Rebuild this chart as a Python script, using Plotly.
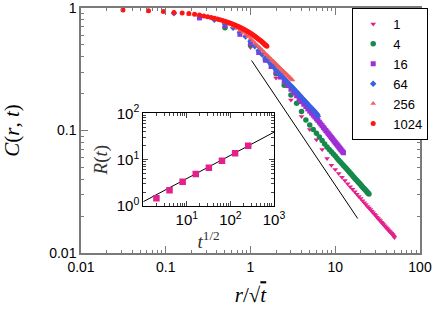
import numpy as np
import plotly.graph_objects as go

# ---------------- data ----------------
T_VALUES = [1, 4, 16, 64, 256, 1024]
LEGEND_LABELS = ["1", "4", "16", "64", "256", "1024"]
R_DIST = list(range(1, 51))

C_T1 = [0.477, 0.268, 0.177, 0.130, 0.102, 0.084, 0.070, 0.059, 0.052, 0.048,
        0.0445, 0.0416, 0.0390, 0.0368, 0.0348, 0.0331, 0.0316, 0.0302, 0.0289, 0.0278,
        0.0267, 0.0257, 0.0249, 0.0240, 0.0233, 0.0226, 0.0219, 0.0213, 0.0207, 0.0202,
        0.0196, 0.0191, 0.0187, 0.0183, 0.0178, 0.0175, 0.0171, 0.0167, 0.0164, 0.0161,
        0.0158, 0.0155, 0.0152, 0.0150, 0.0147, 0.0145, 0.0142, 0.0140, 0.0137, 0.0134]
C_T4 = [0.69, 0.50, 0.378, 0.291, 0.234, 0.195, 0.167, 0.143, 0.122, 0.111,
        0.102, 0.0948, 0.0885, 0.0828, 0.0777, 0.0735, 0.0701, 0.0670, 0.0643, 0.0618,
        0.0594, 0.0573, 0.0554, 0.0536, 0.0519, 0.0503, 0.0489, 0.0475, 0.0462, 0.0450,
        0.0439, 0.0428, 0.0418, 0.0408, 0.0399, 0.0390, 0.0382, 0.0374, 0.0367, 0.0360,
        0.0353, 0.0346, 0.0340, 0.0334, 0.0328, 0.0323, 0.0317, 0.0312, 0.0307, 0.0303]
C_T16 = [0.83, 0.72, 0.61, 0.515, 0.433, 0.375, 0.333, 0.300, 0.273, 0.251,
         0.2325, 0.217, 0.2035, 0.192, 0.1815, 0.172, 0.164, 0.157, 0.150, 0.144,
         0.1386, 0.1335, 0.129, 0.1246, 0.1206, 0.1168, 0.113, 0.1094, 0.106, 0.103,
         0.100, 0.0973, 0.0947, 0.0922, 0.0899, 0.0877, 0.0856, 0.0836, 0.0817, 0.0799,
         0.0782, 0.0766, 0.0750, 0.0735, 0.0721, 0.0707, 0.0694, 0.0681, 0.0669, 0.0658]
C_T64 = [0.905, 0.855, 0.80, 0.745, 0.69, 0.635, 0.585, 0.535, 0.488, 0.450,
         0.417, 0.390, 0.367, 0.348, 0.330, 0.314, 0.300, 0.288, 0.276, 0.266,
         0.256, 0.247, 0.239, 0.231, 0.225, 0.218, 0.212, 0.206, 0.201, 0.196,
         0.191, 0.186, 0.182, 0.178, 0.174, 0.170, 0.167, 0.164, 0.160, 0.157,
         0.155, 0.152, 0.149, 0.147, 0.144, 0.142, 0.139, 0.137, 0.135, 0.131]
C_T256 = [0.945, 0.915, 0.89, 0.865, 0.84, 0.813, 0.787, 0.76, 0.732, 0.705,
          0.68, 0.655, 0.631, 0.607, 0.585, 0.563, 0.541, 0.519, 0.500, 0.482,
          0.466, 0.451, 0.437, 0.424, 0.413, 0.402, 0.392, 0.382, 0.373, 0.365,
          0.357, 0.349, 0.342, 0.335, 0.328, 0.322, 0.316, 0.311, 0.305, 0.300,
          0.295, 0.290, 0.286, 0.281, 0.277, 0.273, 0.269, 0.265, 0.262, 0.258]
C_T1024 = [0.963, 0.95, 0.935, 0.92, 0.91, 0.90, 0.89, 0.875, 0.862, 0.85,
           0.838, 0.826, 0.814, 0.802, 0.79, 0.779, 0.768, 0.757, 0.746, 0.736,
           0.725, 0.715, 0.705, 0.695, 0.686, 0.676, 0.667, 0.657, 0.648, 0.639,
           0.630, 0.621, 0.613, 0.604, 0.596, 0.588, 0.580, 0.572, 0.564, 0.557,
           0.549, 0.542, 0.535, 0.528, 0.521, 0.514, 0.507, 0.500, 0.494, 0.487]
C_SERIES = [C_T1, C_T4, C_T16, C_T64, C_T256, C_T1024]

# guide line C ~ A * x^p
GUIDE_PREFACTOR = 0.384
GUIDE_EXPONENT = -1.03
GUIDE_X_RANGE = [1.03, 18.4]

# inset: R(t) vs t^{1/2}
INSET_SQRT_T = [2, 4, 8, 16, 32, 64, 128, 256]
INSET_R = [1.47, 2.19, 3.35, 4.9, 6.7, 9.5, 13.7, 20.0]
FIT_PREFACTOR = 1.24
FIT_EXPONENT = 0.5
FIT_X_RANGE = [1, 1000]

# ---------------- styles ----------------
COLORS = ["#e3208b", "#16894c", "#a02fd6", "#3c5fe2", "#f45e5e", "#ff1414"]
SYMBOLS = ["triangle-down", "circle", "square", "diamond", "triangle-up", "circle"]
SIZES = [5, 5.5, 5, 5, 5, 5]

SANS = "Liberation Sans, Arial, sans-serif"
SERIF = "Liberation Serif, DejaVu Serif, serif"

fig = go.Figure()

for t, lab, cvals, col, sym, sz in zip(T_VALUES, LEGEND_LABELS, C_SERIES, COLORS, SYMBOLS, SIZES):
    xs = np.array(R_DIST) / np.sqrt(t)
    fig.add_trace(go.Scatter(
        x=xs, y=cvals, mode="markers", name=lab,
        marker=dict(symbol=sym, size=sz, color=col, line=dict(width=0)),
        xaxis="x", yaxis="y"))

gx = np.array(GUIDE_X_RANGE)
fig.add_trace(go.Scatter(
    x=gx, y=GUIDE_PREFACTOR * gx ** GUIDE_EXPONENT, mode="lines",
    line=dict(color="black", width=1), showlegend=False, xaxis="x", yaxis="y"))

fx = np.array(FIT_X_RANGE, dtype=float)
fig.add_trace(go.Scatter(
    x=fx, y=FIT_PREFACTOR * fx ** FIT_EXPONENT, mode="lines",
    line=dict(color="black", width=1), showlegend=False, xaxis="x2", yaxis="y2"))
fig.add_trace(go.Scatter(
    x=INSET_SQRT_T, y=INSET_R, mode="markers",
    marker=dict(symbol="square", size=6.5, color=COLORS[0]),
    showlegend=False, xaxis="x2", yaxis="y2"))


def minor_vals(lo, hi):
    out = []
    for d in range(lo, hi):
        for m in range(2, 10):
            out.append(m * 10.0 ** d)
    return out


main_axis_common = dict(
    type="log", showgrid=False, zeroline=False, showline=True, automargin=False,
    linecolor="#7a7a7a", linewidth=1.5, mirror="ticks",
    ticks="inside", ticklen=7, tickwidth=1, tickcolor="#7a7a7a",
    tickfont=dict(family=SANS, size=14, color="black"),
)

fig.update_layout(
    width=436, height=312,
    margin=dict(l=81, r=16, t=8, b=59),
    paper_bgcolor="white", plot_bgcolor="white",
    xaxis=dict(
        **main_axis_common,
        range=[-2, 2], domain=[0, 1], anchor="y",
        tickvals=[0.01, 0.1, 1, 10, 100],
        ticktext=["0.01", "0.1", "1", "10", "100"],
        ticklabeloverflow="allow",
        minor=dict(tickvals=minor_vals(-2, 2), ticks="inside", ticklen=3,
                   tickcolor="#7a7a7a", showgrid=False),
        title=dict(text="<i>r</i>/√<span style='text-decoration:overline'><i>t</i></span>",
                   font=dict(family=SERIF, size=21, color="black"), standoff=14),
    ),
    yaxis=dict(
        **main_axis_common,
        range=[-2, 0], domain=[0, 1], anchor="x",
        tickvals=[0.01, 0.1, 1],
        ticktext=["0.01", "0.1", "1"],
        ticklabeloverflow="allow",
        minor=dict(tickvals=minor_vals(-2, 0), ticks="inside", ticklen=3,
                   tickcolor="#7a7a7a", showgrid=False),
        title=dict(text="<i>C</i>(<i>r</i>, <i>t</i>)",
                   font=dict(family=SERIF, size=21, color="black"), standoff=30),
    ),
    xaxis2=dict(
        type="log", range=[0, 3], domain=[0.1838, 0.5693], anchor="y2",
        automargin=False,
        showgrid=False, zeroline=False, showline=True, linecolor="black",
        linewidth=1, mirror="ticks", ticks="inside", ticklen=5,
        tickvals=[1, 10, 100, 1000],
        ticktext=["", "10<sup>1</sup>", "10<sup>2</sup>", "10<sup>3</sup>"],
        tickfont=dict(family=SANS, size=15, color="black"),
        minor=dict(tickvals=minor_vals(0, 3), ticks="inside", ticklen=3, showgrid=False),
        title=dict(text="<i>t</i><sup>1/2</sup>",
                   font=dict(family=SERIF, size=19, color="#333"), standoff=2),
    ),
    yaxis2=dict(
        type="log", range=[0, 2], domain=[0.1918, 0.570], anchor="x2",
        automargin=False,
        showgrid=False, zeroline=False, showline=True, linecolor="black",
        linewidth=1, mirror="ticks", ticks="inside", ticklen=5,
        tickvals=[1, 10, 100],
        ticktext=["10<sup>0</sup>", "10<sup>1</sup>", "10<sup>2</sup>"],
        tickfont=dict(family=SANS, size=15, color="black"),
        minor=dict(tickvals=minor_vals(0, 2), ticks="inside", ticklen=3, showgrid=False),
        title=dict(text="<i>R</i>(<i>t</i>)",
                   font=dict(family=SERIF, size=19, color="#333"), standoff=4),
    ),
    legend=dict(
        x=0.80, y=1.0, xanchor="left", yanchor="top",
        bgcolor="white", bordercolor="black", borderwidth=1,
        font=dict(family=SANS, size=13, color="black"),
        tracegroupgap=0, itemsizing="trace", itemwidth=30,
    ),
    showlegend=True,
)

fig.write_html("out.html", config={"displayModeBar": False},
               post_script="document.body.style.margin='0';")
